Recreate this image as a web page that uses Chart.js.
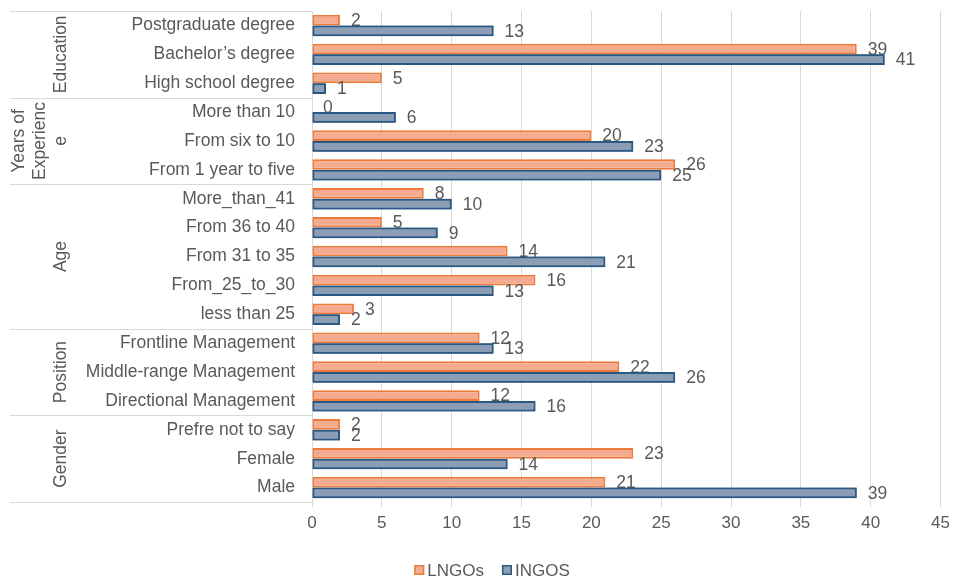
<!DOCTYPE html>
<html>
<head>
<meta charset="utf-8">
<script src="https://cdn.jsdelivr.net/npm/chart.js@4/dist/chart.umd.min.js"></script>
<style>
  html, body { margin: 0; padding: 0; background: #ffffff; }
</style>
</head>
<body>
<canvas id="chart" width="956" height="580"></canvas>
<script>
// Survey profile: respondents by characteristic, local vs international NGOs
const groupNames = [['Education'], ['Years of', 'Experienc', 'e'], ['Age'], ['Position'], ['Gender']];
const groupSizes = [3, 3, 5, 3, 3];
const categories = [
  'Postgraduate degree', 'Bachelor\u2019s degree', 'High school degree',
  'More than 10', 'From six to 10', 'From 1 year to five',
  'More_than_41', 'From 36 to 40', 'From 31 to 35', 'From_25_to_30', 'less than 25',
  'Frontline Management', 'Middle-range Management', 'Directional Management',
  'Prefre not to say', 'Female', 'Male'
];
const seriesNames = ['LNGOs', 'INGOS'];
const lngos = [2, 39, 5, 0, 20, 26, 8, 5, 14, 16, 3, 12, 22, 12, 2, 23, 21];
const ingos = [13, 41, 1, 6, 23, 25, 10, 9, 21, 13, 2, 13, 26, 16, 2, 14, 39];
const xMin = 0;
const xMax = 45;
const xStep = 5;

const FONT = '"Liberation Sans", Arial, Helvetica, sans-serif';
const TEXT = '#595959';
const GRID = '#d9d9d9';
const ORANGE_FILL = '#f5ab8f';
const ORANGE_LINE = '#ec7a3a';
const BLUE_FILL = '#8b9eb5';
const BLUE_LINE = '#2b5883';

function drawValueLabels(chart, di) {
  const ctx = chart.ctx;
  const meta = chart.getDatasetMeta(di);
  const values = chart.data.datasets[di].data;
  ctx.save();
  ctx.font = '17.5px ' + FONT;
  ctx.fillStyle = TEXT;
  ctx.textAlign = 'left';
  ctx.textBaseline = 'middle';
  meta.data.forEach((bar, i) => {
    ctx.fillText(String(values[i]), bar.x + 11, bar.y + 1);
  });
  ctx.restore();
}

// value labels: the INGOS bars are drawn again after the LNGOs labels so they sit on top
const valueLabels = {
  id: 'valueLabels',
  afterDatasetsDraw(chart) {
    drawValueLabels(chart, 0);
    chart.getDatasetMeta(1).controller.draw();
    drawValueLabels(chart, 1);
  }
};

// group bands on the category axis plus the legend row
const groupBands = {
  id: 'groupBands',
  afterDraw(chart) {
    const { ctx, chartArea } = chart;
    const y = chart.scales.y;
    const left = 10;
    const bounds = [chartArea.top];
    let idx = 0;
    groupSizes.forEach((n) => {
      idx += n;
      if (idx < categories.length) {
        bounds.push((y.getPixelForTick(idx - 1) + y.getPixelForTick(idx)) / 2);
      } else {
        bounds.push(chartArea.bottom);
      }
    });
    ctx.save();
    ctx.strokeStyle = GRID;
    ctx.lineWidth = 1;
    bounds.forEach((b) => {
      const yy = Math.round(b) + 0.5;
      ctx.beginPath();
      ctx.moveTo(left, yy);
      ctx.lineTo(chartArea.left, yy);
      ctx.stroke();
    });
    ctx.fillStyle = TEXT;
    ctx.font = '17.5px ' + FONT;
    ctx.textAlign = 'center';
    ctx.textBaseline = 'middle';
    groupNames.forEach((lines, g) => {
      const cy = (bounds[g] + bounds[g + 1]) / 2;
      lines.forEach((line, i) => {
        const cx = 61 - (lines.length - 1 - i) * 21;
        ctx.save();
        ctx.translate(cx, cy);
        ctx.rotate(-Math.PI / 2);
        ctx.fillText(line, 0, 0);
        ctx.restore();
      });
    });

    // legend
    const box = 10, gap = 3, itemGap = 18, ly = 570;
    ctx.font = '17px ' + FONT;
    ctx.textAlign = 'left';
    const items = chart.data.datasets.map((ds) => ({
      text: ds.label, fill: ds.backgroundColor, line: ds.borderColor,
      w: box + gap + ctx.measureText(ds.label).width
    }));
    const total = items.reduce((s, it) => s + it.w, 0) + itemGap * (items.length - 1);
    let x = 492 - total / 2;
    items.forEach((it) => {
      ctx.fillStyle = it.fill;
      ctx.fillRect(x, ly - box / 2, box, box);
      ctx.strokeStyle = it.line;
      ctx.lineWidth = 1.5;
      ctx.strokeRect(x + 0.75, ly - box / 2 + 0.75, box - 1.5, box - 1.5);
      ctx.fillStyle = TEXT;
      ctx.fillText(it.text, x + box + gap, ly + 1);
      x += it.w + itemGap;
    });
    ctx.restore();
  }
};

new Chart(document.getElementById('chart'), {
  type: 'bar',
  data: {
    labels: categories,
    datasets: [
      {
        label: seriesNames[0], data: lngos,
        backgroundColor: ORANGE_FILL, borderColor: ORANGE_LINE,
        borderWidth: 2, borderSkipped: false
      },
      {
        label: seriesNames[1], data: ingos,
        backgroundColor: BLUE_FILL, borderColor: BLUE_LINE,
        borderWidth: 2, borderSkipped: false
      }
    ]
  },
  options: {
    indexAxis: 'y',
    responsive: false,
    devicePixelRatio: 1,
    animation: false,
    categoryPercentage: 0.74,
    barPercentage: 1,
    layout: { padding: { left: 10, right: 10, top: 11, bottom: 42 } },
    plugins: {
      legend: { display: false },
      tooltip: { enabled: false }
    },
    scales: {
      x: {
        min: xMin, max: xMax,
        afterFit(scale) { scale.height = 36; },
        ticks: { stepSize: xStep, color: TEXT, font: { family: FONT, size: 17 }, padding: 6 },
        grid: { color: GRID, lineWidth: 1, drawTicks: true, tickLength: 5, tickColor: GRID },
        border: { display: false }
      },
      y: {
        afterFit(scale) { scale.width = 302; },
        ticks: { color: TEXT, font: { family: FONT, size: 17.5 }, padding: 0, autoSkip: false },
        grid: { display: true, drawOnChartArea: false, drawTicks: true, tickLength: 17, tickColor: 'rgba(0,0,0,0)' },
        border: { display: true, color: GRID, width: 1 }
      }
    }
  },
  plugins: [valueLabels, groupBands]
});
</script>
</body>
</html>
